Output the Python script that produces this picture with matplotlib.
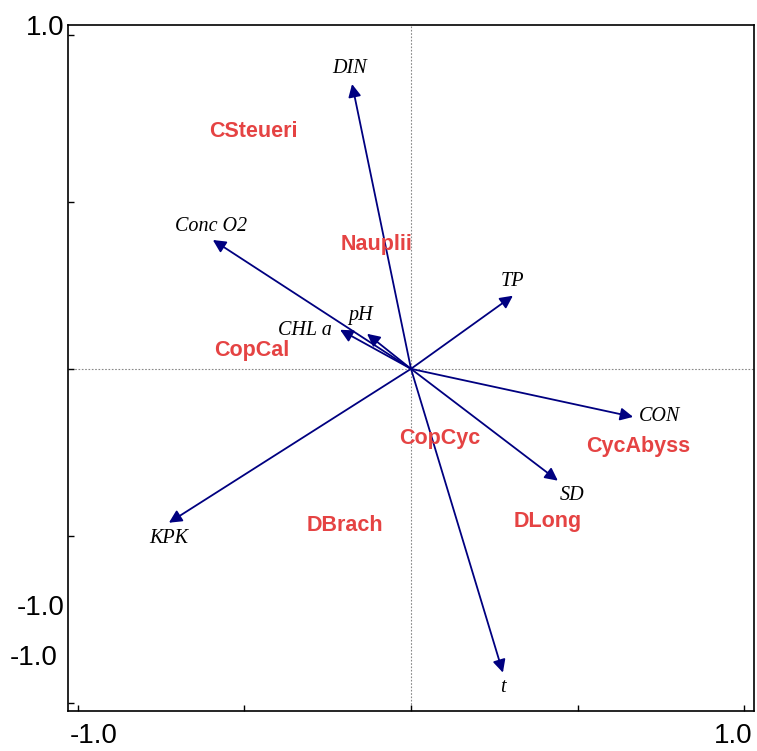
import matplotlib
matplotlib.use("Agg")
import matplotlib.pyplot as plt

# environmental variables (arrow tips, axis 1 / axis 2 scores)
env_names = ["DIN", "Conc O2", "CHL a", "pH", "TP", "CON", "SD", "KPK", "t"]
env_x = [-0.177, -0.595, -0.213, -0.132, 0.306, 0.667, 0.441, -0.727, 0.276]
env_y = [0.853, 0.386, 0.117, 0.105, 0.219, -0.144, -0.335, -0.461, -0.910]

# species scores
sp_names = ["CSteueri", "Nauplii", "CopCal", "CopCyc", "CycAbyss", "DLong", "DBrach"]
sp_x = [-0.474, -0.102, -0.477, 0.087, 0.682, 0.411, -0.198]
sp_y = [0.710, 0.371, 0.054, -0.210, -0.234, -0.458, -0.470]

# label offsets from arrow tips (points)
env_offsets = {
    "DIN": (-1.5, 11), "Conc O2": (-1.5, 9.5), "CHL a": (-25, -0.7),
    "pH": (-5, 13), "TP": (0, 10), "CON": (19, 0), "SD": (10, -11),
    "KPK": (0, -11), "t": (0, -11),
}

arrow_col = "#000080"
sp_col = "#E54343"

fig = plt.figure(figsize=(7.57, 7.51), dpi=100)
ax = fig.add_axes([68 / 757, 40 / 751, 686 / 757, 686 / 751])
ax.set_xlim(-1.03, 1.03)
ax.set_ylim(-1.025, 1.03)

ax.axhline(0, color="#888888", lw=0.8, ls=(0, (1.5, 1.5)), zorder=1)
ax.axvline(0, color="#888888", lw=0.8, ls=(0, (1.5, 1.5)), zorder=1)

for name, x, y in zip(env_names, env_x, env_y):
    ax.annotate("", xy=(x, y), xytext=(0, 0),
                arrowprops=dict(arrowstyle="-|>", color=arrow_col, lw=1.3,
                                mutation_scale=19, shrinkA=0, shrinkB=0),
                zorder=3)
    dx, dy = env_offsets[name]
    ax.annotate(name, xy=(x, y), xytext=(dx, dy), textcoords="offset points",
                ha="center", va="center", fontsize=14.5, style="italic",
                family="Liberation Serif", color="black", zorder=4)

for name, x, y in zip(sp_names, sp_x, sp_y):
    ax.text(x, y, name, ha="center", va="center", fontsize=15.5,
            fontweight="bold", family="Liberation Sans", color=sp_col, zorder=4)

for s in ax.spines.values():
    s.set_linewidth(1.2)

ticks = [-1.0, -0.5, 0.0, 0.5, 1.0]
ax.set_xticks(ticks)
ax.set_yticks(ticks)
ax.set_xticklabels([])
ax.set_yticklabels([])
ax.tick_params(direction="in", length=4, width=1, top=False, right=False)

# axis labels as printed in the original export
lab = dict(fontsize=20, family="Liberation Sans", color="black", clip_on=False)
ax.text(-1.04, 1.02, "1.0", ha="right", va="center", **lab)
ax.text(-1.04, -0.716, "-1.0", ha="right", va="center", **lab)
ax.text(-1.06, -0.865, "-1.0", ha="right", va="center", **lab)
ax.text(-0.953, -1.1, "-1.0", ha="center", va="center", **lab)
ax.text(0.967, -1.1, "1.0", ha="center", va="center", **lab)

fig.savefig("out.png", dpi=100)
